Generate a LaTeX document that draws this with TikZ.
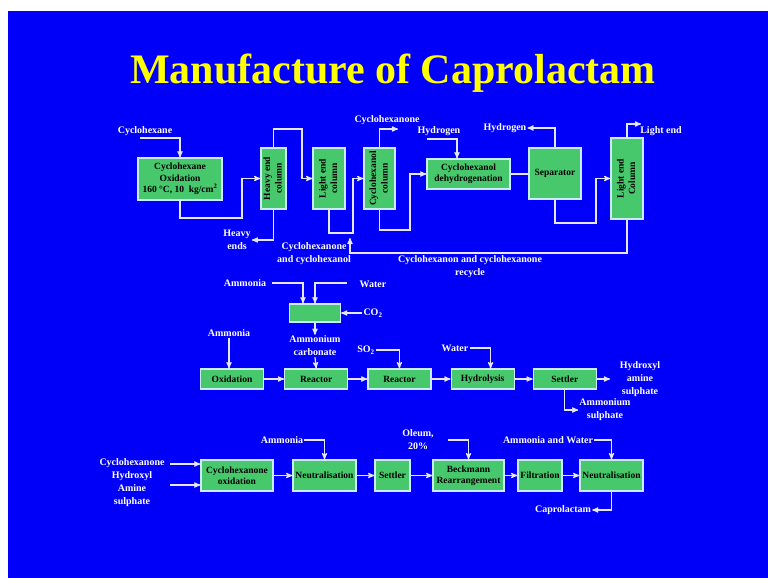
\documentclass[tikz,border=0pt]{standalone}
\usepackage{fontspec}
\setmainfont{Liberation Serif}
\usetikzlibrary{arrows,positioning}

\definecolor{slideblue}{RGB}{0,0,250}
\definecolor{boxgreen}{RGB}{72,200,108}
\definecolor{boxedge}{RGB}{205,235,255}
\definecolor{flowline}{RGB}{230,230,255}
\definecolor{titleyellow}{RGB}{255,255,0}

\newcommand{\vtext}[1]{\rotatebox{90}{\begin{tabular}{@{}c@{}}#1\end{tabular}}}

\begin{document}
\begin{tikzpicture}
	[x=1pt,y=-1pt,>=stealth',
		unit box/.style={draw=boxedge,fill=boxgreen,line width=1.2pt,inner sep=0pt,align=center,text=black,font=\bfseries\fontsize{9.5}{11.5}\selectfont},
		tag/.style={text=white,align=center,inner sep=1pt,font=\bfseries\fontsize{10}{13}\selectfont},
		flow/.style={->,draw=flowline,line width=1.2pt}]

	\useasboundingbox (0,0) rectangle (768,578);
	\fill[slideblue] (8,11) rectangle (768,578);

	\node[anchor=base,text=titleyellow,font=\bfseries\fontsize{42}{42}\selectfont] (title) at (393,84) {Manufacture of Caprolactam};

	% cyclohexane oxidation train
	\node[unit box,minimum width=84pt,minimum height=42pt] (oxid) at (180,179) {Cyclohexane\\Oxidation\\160 °C, 10~ kg/cm\textsuperscript{2}};
	\node[unit box,minimum width=25pt,minimum height=61pt] (heavy) at (273.5,178.5) {\vtext{Heavy end\\column}};
	\node[unit box,minimum width=32pt,minimum height=61pt] (light) at (329,178.5) {\vtext{Light end\\column}};
	\node[unit box,minimum width=31pt,minimum height=61pt] (cyol) at (379.5,178.5) {\vtext{Cyclohexanol\\column}};
	\node[unit box,minimum width=83pt,minimum height=30pt] (dehyd) at (468.5,174) {Cyclohexanol\\dehydrogenation};
	\node[unit box,minimum width=52pt,minimum height=51pt] (sep) at (555,173.5) {Separator};
	\node[unit box,minimum width=32pt,minimum height=81pt] (lec) at (627,178.5) {\vtext{Light end\\Column}};

	\node[tag] (chex) at (145,131) {Cyclohexane};
	\coordinate (chexin) at (140,138);
	\node[tag] (hends) at (237,240) {Heavy\\ends};
	\node[tag] (cone) at (387,120) {Cyclohexanone};
	\coordinate (coneout) at (398,129);
	\node[tag] (hyin) at (439,131) {Hydrogen};
	\coordinate (hyinpt) at (427,139);
	\node[tag] (hyout) at (505,128) {Hydrogen};
	\node[tag] (lend) at (661,131) {Light end};
	\coordinate (lendout) at (641,124);
	\coordinate (recyc) at (350,238);
	\node[tag] (conol) at (314,254) {Cyclohexanone\\and cyclohexanol};
	\node[tag] (rcy) at (470,267) {Cyclohexanon and cyclohexanone\\recycle};

	\draw[flow] (chexin) -| (oxid.north);
	\draw[flow] (oxid.south) |- (242,218) |- (heavy.west);
	\draw[flow] (heavy.north) |- (302,129) |- (light.west);
	\draw[flow] (heavy.south) |- (hends.east);
	\draw[flow] (light.south) |- (353,233) |- (cyol.west);
	\draw[flow] (cyol.north) |- (coneout);
	\draw[flow] (cyol.south) |- (410,230) |- (dehyd.west);
	\draw[flow] (hyinpt) -| ([xshift=-11.5pt]dehyd.north);
	\draw[flow,-] (dehyd.east) -- (dehyd.east -| sep.west);
	\draw[flow] (sep.north) |- (hyout.east);
	\draw[flow] (sep.south) |- (596,223) |- (lec.west);
	\draw[flow] (lec.north) |- (lendout);
	\draw[flow] (lec.south) |- (350,253) -- (recyc);

	% ammonium carbonate
	\node[unit box,minimum width=51pt,minimum height=18pt] (carb) at (315,313) {};
	\node[tag] (amm1) at (245,283) {Ammonia};
	\coordinate (amm1pt) at (272,283);
	\node[tag] (wat1) at (373,284) {Water};
	\coordinate (wat1pt) at (347,283);
	\node[tag] (co2) at (373,313) {CO\textsubscript{2}};
	\node[tag] (amc) at (315,346) {Ammonium\\carbonate};

	\draw[flow] (amm1pt) -| ([xshift=-12pt]carb.north);
	\draw[flow] (wat1pt) -| (carb.north);
	\draw[flow] (co2.west) -- (carb.east);
	\draw[flow] (carb.south) -- (amc.north);

	% hydroxylamine sulphate train
	\node[unit box,minimum width=63pt,minimum height=20pt] (oxi) at (232,379) {Oxidation};
	\node[unit box,minimum width=63pt,minimum height=20pt,right=20pt of oxi] (reac1) {Reactor};
	\node[unit box,minimum width=63pt,minimum height=20pt,right=19pt of reac1] (reac2) {Reactor};
	\node[unit box,minimum width=63pt,minimum height=20pt,right=19pt of reac2] (hyd) {Hydrolysis};
	\node[unit box,minimum width=63pt,minimum height=20pt,right=18pt of hyd] (setl) {Settler};

	\node[tag] (amm2) at (229,333) {Ammonia};
	\node[tag] (so2) at (366,350) {SO\textsubscript{2}};
	\node[tag] (wat2) at (455,348) {Water};
	\coordinate (hasout) at (610,379);
	\node[tag] (has) at (640,379) {Hydroxyl\\amine\\sulphate};
	\node[tag] (amsul) at (605,410) {Ammonium\\sulphate};

	\draw[flow] (amc.south) -- (reac1.north);
	\draw[flow] (amm2.south) -- (amm2.south |- oxi.north);
	\draw[flow] (so2.east) -| (reac2.north);
	\draw[flow] (wat2.east) -| ([xshift=8pt]hyd.north);
	\draw[flow] (oxi.east) -- (reac1.west);
	\draw[flow] (reac1.east) -- (reac2.west);
	\draw[flow] (reac2.east) -- (hyd.west);
	\draw[flow] (hyd.east) -- (setl.west);
	\draw[flow] (setl.east) -- (hasout);
	\draw[flow] (setl.south) |- (amsul.west);

	% caprolactam train
	\node[unit box,minimum width=72pt,minimum height=31pt] (cxox) at (237,475.5) {Cyclohexanone\\oxidation};
	\node[unit box,minimum width=63pt,minimum height=31pt] (neut1) at (324.5,475.5) {Neutralisation};
	\node[unit box,minimum width=35pt,minimum height=31pt] (setl2) at (392.5,475.5) {Settler};
	\node[unit box,minimum width=71pt,minimum height=31pt] (beck) at (468.5,475.5) {Beckmann\\Rearrangement};
	\node[unit box,minimum width=44pt,minimum height=31pt] (filt) at (540,475.5) {Filtration};
	\node[unit box,minimum width=63pt,minimum height=31pt] (neut2) at (611.5,475.5) {Neutralisation};

	\node[tag] (cxin) at (132,483) {Cyclohexanone\\Hydroxyl\\Amine\\sulphate};
	\coordinate (in1) at (170,464);
	\coordinate (in2) at (170,485);
	\node[tag] (amm3) at (282,440) {Ammonia};
	\node[tag] (oleum) at (418,440) {Oleum,\\20\%};
	\coordinate (oleumpt) at (448,440);
	\node[tag] (amwat) at (548,440) {Ammonia and Water};
	\node[tag] (capro) at (563,510) {Caprolactam};

	\draw[flow] (in1) -- (in1 -| cxox.west);
	\draw[flow] (in2) -- (in2 -| cxox.west);
	\draw[flow] (amm3.east) -| (neut1.north);
	\draw[flow] (oleumpt) -| (beck.north);
	\draw[flow] (amwat.east) -| (neut2.north);
	\draw[flow] (cxox.east) -- (neut1.west);
	\draw[flow] (neut1.east) -- (setl2.west);
	\draw[flow] (setl2.east) -- (beck.west);
	\draw[flow] (beck.east) -- (filt.west);
	\draw[flow] (filt.east) -- (neut2.west);
	\draw[flow] (neut2.south) |- (capro.east);

\end{tikzpicture}
\end{document}
